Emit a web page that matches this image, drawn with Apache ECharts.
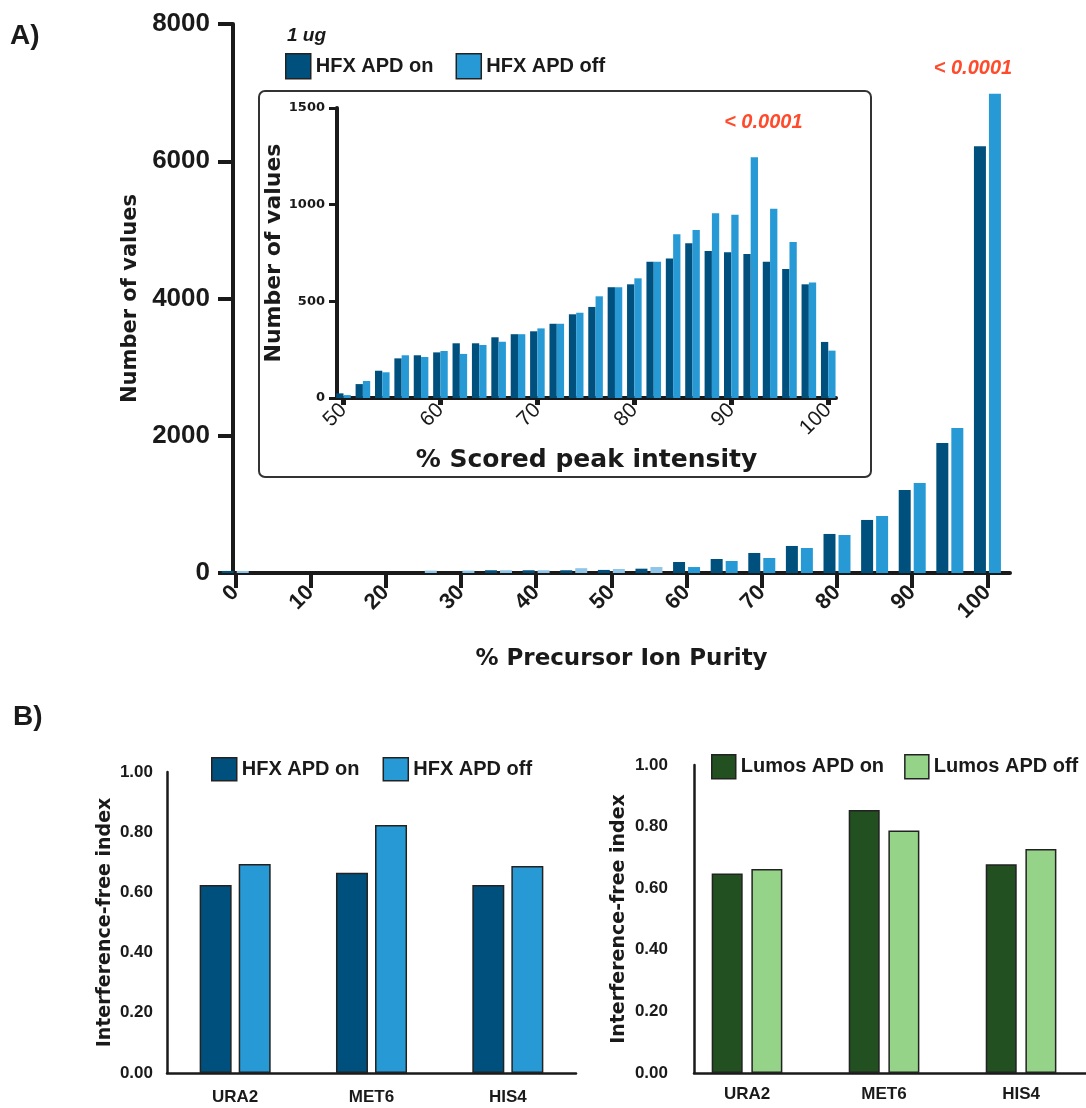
<!DOCTYPE html>
<html><head><meta charset="utf-8">
<script src="https://cdn.jsdelivr.net/npm/echarts@6/dist/echarts.min.js"></script>
<style>html,body{margin:0;padding:0;background:#fff}#c{width:1086px;height:1108px}</style>
</head><body><div id="c"></div>
<script>
// ---------- data ----------
const mainBins    = [0,5,10,15,20,25,30,35,40,45,50,55,60,65,70,75,80,85,90,95,100];
const mainApdOn   = [30,0,0,0,0,0,0,40,40,40,45,63,160,204,292,394,569,773,1210,1895,6220];
const mainApdOff  = [30,0,0,0,0,35,35,40,40,70,58,87,87,175,219,364,554,831,1312,2113,6982];
const mainXTicks  = [0,10,20,30,40,50,60,70,80,90,100];

const insetBins   = [50,52,54,56,58,60,62,64,66,68,70,72,74,76,78,80,82,84,86,88,90,92,94,96,98,100];
const insetApdOn  = [24,72,141,205,221,236,283,283,314,330,345,384,433,471,573,588,705,721,800,760,754,745,705,667,588,290];
const insetApdOff = [15,88,133,221,212,243,228,274,291,330,360,384,441,526,573,619,705,847,869,955,948,1245,979,807,597,245];
const insetXTicks = [50,60,70,80,90,100];

const genes       = ['URA2','MET6','HIS4'];
const geneIdx     = [0,1,2];
const hfxApdOn    = [0.625,0.665,0.625];
const hfxApdOff   = [0.694,0.824,0.688];
const lumosApdOn  = [0.648,0.854,0.678];
const lumosApdOff = [0.662,0.787,0.727];

const pValueText  = '< 0.0001';

// ---------- styles ----------
const ARIAL = '"Liberation Sans", Arial, sans-serif';
const DEJA  = '"DejaVu Sans", sans-serif';
const INK   = '#1a1a1a';
const C_ON  = '#00507E', C_OFF = '#279AD6', C_OFF_LOW = '#8EC5E8';
const G_ON  = '#225020', G_OFF = '#95D389';
const RED   = '#FF4B2B';

const chart = echarts.init(document.getElementById('c'), null, {renderer:'canvas'});

function maxIdx(a){let m=0;a.forEach((v,i)=>{if(v>a[m])m=i;});return m;}
const mainMax = maxIdx(mainApdOff), insetMax = maxIdx(insetApdOff);
const plain = v => String(v);

const redLabel = (off) => ({show:true, position:'top', formatter:pValueText, color:RED,
  fontFamily:ARIAL, fontStyle:'italic', fontWeight:'bold', fontSize:20, offset:off});

const legendBase = {icon:'rect', selectedMode:false, padding:0, orient:'horizontal', width:420,
  itemStyle:{borderColor:'#222', borderWidth:1.5},
  textStyle:{fontFamily:ARIAL, fontWeight:'bold', fontSize:20, color:INK}};

const option = {
  animation:false,
  backgroundColor:'#fff',
  grid:[
    {left:233, top:24, width:777, height:549},
    {left:337, top:108, width:499, height:290},
    {left:167, top:772, width:409, height:301},
    {left:694, top:765, width:392, height:308}
  ],
  graphic:[
    {type:'rect', z:0, shape:{x:259, y:91, width:612, height:386, r:6},
     style:{fill:'#fff', stroke:'#333', lineWidth:2}},
    {type:'text', z:10, style:{x:10, y:36, text:'A)', font:'bold 28px "Liberation Sans", Arial', fill:INK, textVerticalAlign:'middle'}},
    {type:'text', z:10, style:{x:13, y:717, text:'B)', font:'bold 28px "Liberation Sans", Arial', fill:INK, textVerticalAlign:'middle'}},
    {type:'text', z:10, style:{x:287, y:36, text:'1 ug', font:'italic bold 19px "Liberation Sans", Arial', fill:INK, textVerticalAlign:'middle'}}
  ],
  legend:[
    Object.assign({}, legendBase, {data:['HFX APD on','HFX APD off'], left:285, top:53, itemWidth:25, itemHeight:25, itemGap:22}),
    Object.assign({}, legendBase, {data:['HFX APD on','HFX APD off'], left:211, top:757, itemWidth:25, itemHeight:23, itemGap:23}),
    Object.assign({}, legendBase, {data:['Lumos APD on','Lumos APD off'], left:711, top:754, itemWidth:24, itemHeight:24, itemGap:20})
  ],
  xAxis:[
    {gridIndex:0, type:'value', min:-0.3, max:103,
     axisLine:{onZero:false, lineStyle:{color:INK, width:4}},
     axisTick:{customValues:mainXTicks, length:15, lineStyle:{color:INK, width:4}},
     axisLabel:{customValues:mainXTicks, formatter:plain, rotate:45, margin:16, fontFamily:ARIAL, fontWeight:'bold', fontSize:22, color:INK},
     splitLine:{show:false},
     name:'% Precursor Ion Purity', nameLocation:'middle', nameGap:75,
     nameTextStyle:{fontFamily:DEJA, fontWeight:'bold', fontSize:23, color:INK}},
    {gridIndex:1, type:'value', min:49.33, max:100.8,
     axisLine:{onZero:false, lineStyle:{color:INK, width:4}},
     axisTick:{customValues:insetXTicks, length:7, lineStyle:{color:INK, width:5}},
     axisLabel:{customValues:insetXTicks, formatter:plain, rotate:45, margin:9, fontFamily:ARIAL, fontSize:21, color:INK},
     splitLine:{show:false},
     name:'% Scored peak intensity', nameLocation:'middle', nameGap:50,
     nameTextStyle:{fontFamily:DEJA, fontWeight:'bold', fontSize:25, color:INK}},
    {gridIndex:2, type:'value', min:-0.5, max:2.5,
     axisLine:{onZero:false, lineStyle:{color:INK, width:2.5}}, axisTick:{show:false},
     axisLabel:{customValues:geneIdx, formatter:v=>genes[Math.round(v)], margin:16,
       fontFamily:ARIAL, fontWeight:'bold', fontSize:17, color:INK},
     splitLine:{show:false}},
    {gridIndex:3, type:'value', min:-0.387, max:2.474,
     axisLine:{onZero:false, lineStyle:{color:INK, width:2.5}}, axisTick:{show:false},
     axisLabel:{customValues:geneIdx, formatter:v=>genes[Math.round(v)], margin:13,
       fontFamily:ARIAL, fontWeight:'bold', fontSize:17, color:INK},
     splitLine:{show:false}}
  ],
  yAxis:[
    {gridIndex:0, type:'value', min:0, max:8000, interval:2000,
     axisLine:{show:true, onZero:false, lineStyle:{color:INK, width:4}},
     axisTick:{show:true, length:15, lineStyle:{color:INK, width:4}},
     axisLabel:{formatter:plain, margin:23, fontFamily:ARIAL, fontWeight:'bold', fontSize:26, color:INK},
     splitLine:{show:false},
     name:'Number of values', nameLocation:'middle', nameGap:87,
     nameTextStyle:{fontFamily:DEJA, fontWeight:'bold', fontSize:21, color:INK}},
    {gridIndex:1, type:'value', min:0, max:1500, interval:500,
     axisLine:{show:true, onZero:false, lineStyle:{color:INK, width:4}},
     axisTick:{show:true, length:8, lineStyle:{color:INK, width:3}},
     axisLabel:{formatter:plain, margin:12, fontFamily:DEJA, fontWeight:'bold', fontSize:13, color:INK},
     splitLine:{show:false},
     name:'Number of values', nameLocation:'middle', nameGap:48,
     nameTextStyle:{fontFamily:DEJA, fontWeight:'bold', fontSize:22, color:INK}},
    {gridIndex:2, type:'value', min:0, max:1, interval:0.2,
     axisLine:{show:true, onZero:false, lineStyle:{color:INK, width:2.5}}, axisTick:{show:false},
     axisLabel:{formatter:v=>v.toFixed(2), margin:14, fontFamily:ARIAL, fontWeight:'bold', fontSize:17, color:INK},
     splitLine:{show:false},
     name:'Interference-free index', nameLocation:'middle', nameGap:52,
     nameTextStyle:{fontFamily:DEJA, fontWeight:'bold', fontSize:19, color:INK}},
    {gridIndex:3, type:'value', min:0, max:1, interval:0.2,
     axisLine:{show:true, onZero:false, lineStyle:{color:INK, width:2.5}}, axisTick:{show:false},
     axisLabel:{formatter:v=>v.toFixed(2), margin:26, fontFamily:ARIAL, fontWeight:'bold', fontSize:17, color:INK},
     splitLine:{show:false},
     name:'Interference-free index', nameLocation:'middle', nameGap:65,
     nameTextStyle:{fontFamily:DEJA, fontWeight:'bold', fontSize:19, color:INK}}
  ],
  series:[
    {type:'bar', name:'HFX APD on', xAxisIndex:0, yAxisIndex:0, barWidth:12, barGap:'25%',
     itemStyle:{color:C_ON}, data:mainBins.map((b,i)=>[b, mainApdOn[i]])},
    {type:'bar', name:'HFX APD off', xAxisIndex:0, yAxisIndex:0, barWidth:12, barGap:'25%',
     itemStyle:{color:C_OFF},
     data:mainBins.map((b,i)=>{
       const it={value:[b, mainApdOff[i]]};
       if(b<=55) it.itemStyle={color:C_OFF_LOW};
       if(i===mainMax) it.label=redLabel([-22,-10]);
       return it;})},
    {type:'bar', name:'HFX APD on', xAxisIndex:1, yAxisIndex:1, barWidth:7.3, barGap:'0%', z:5,
     itemStyle:{color:C_ON}, data:insetBins.map((b,i)=>[b, insetApdOn[i]])},
    {type:'bar', name:'HFX APD off', xAxisIndex:1, yAxisIndex:1, barWidth:7.3, barGap:'0%', z:5,
     itemStyle:{color:C_OFF},
     data:insetBins.map((b,i)=>{
       const it={value:[b, insetApdOff[i]]};
       if(i===insetMax) it.label=redLabel([9,-20]);
       return it;})},
    {type:'bar', name:'HFX APD on', xAxisIndex:2, yAxisIndex:2, barWidth:32, barGap:'22%',
     itemStyle:{color:C_ON, borderColor:'#222', borderWidth:1.5}, data:geneIdx.map(i=>[i, hfxApdOn[i]])},
    {type:'bar', name:'HFX APD off', xAxisIndex:2, yAxisIndex:2, barWidth:32, barGap:'22%',
     itemStyle:{color:C_OFF, borderColor:'#222', borderWidth:1.5}, data:geneIdx.map(i=>[i, hfxApdOff[i]])},
    {type:'bar', name:'Lumos APD on', xAxisIndex:3, yAxisIndex:3, barWidth:31, barGap:'28%',
     itemStyle:{color:G_ON, borderColor:'#222', borderWidth:1.5}, data:geneIdx.map(i=>[i, lumosApdOn[i]])},
    {type:'bar', name:'Lumos APD off', xAxisIndex:3, yAxisIndex:3, barWidth:31, barGap:'28%',
     itemStyle:{color:G_OFF, borderColor:'#222', borderWidth:1.5}, data:geneIdx.map(i=>[i, lumosApdOff[i]])}
  ]
};
chart.setOption(option);
</script>
</body></html>
